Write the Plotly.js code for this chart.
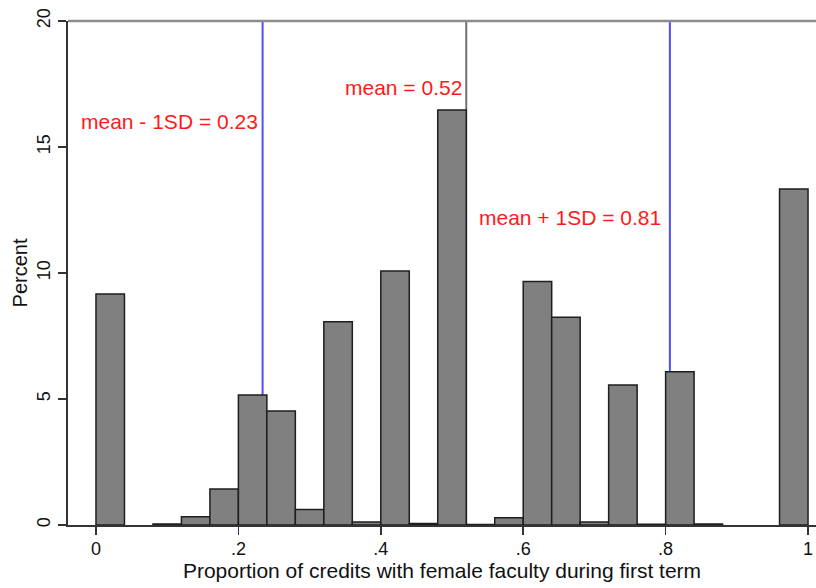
<!DOCTYPE html>
<html>
<head>
<meta charset="utf-8">
<script src="https://cdn.plot.ly/plotly-3.0.1.min.js"></script>
<style>html,body{margin:0;padding:0;background:#fff;}#chart{width:816px;height:588px;}</style>
</head>
<body>
<div id="chart"></div>
<script>
// Histogram bins (centers of 0.04-wide bins) and percent heights (null = empty bin)
var binCenters = [0.02, 0.06, 0.10, 0.14, 0.18, 0.22, 0.26, 0.30, 0.34, 0.38, 0.42, 0.46, 0.50,
                  0.54, 0.58, 0.62, 0.66, 0.70, 0.74, 0.78, 0.82, 0.86, 0.90, 0.94, 0.98];
var percents   = [9.17, null, 0.04, 0.33, 1.43, 5.16, 4.52, 0.62, 8.07, 0.12, 10.08, 0.06, 16.47,
                  0.02, 0.29, 9.66, 8.24, 0.12, 5.56, 0.03, 6.08, 0.04, null, null, 13.33];
var binWidth = 0.04;

// Reference lines: mean - 1SD, mean, mean + 1SD
var lineValues = [0.234, 0.52, 0.806];
var lineLabels = ["mean - 1SD = 0.23", "mean = 0.52", "mean + 1SD = 0.81"];
var labelHeights = [16.0, 17.35, 12.2];
var lineColors = ["#4f4fff", "#707070", "#4f4fff"];

var xTickVals = [0, 0.2, 0.4, 0.6, 0.8, 1];
var xTickText = ["0", ".2", ".4", ".6", ".8", "1"];
var yTickVals = [0, 5, 10, 15, 20];

var fontFam = '"Liberation Sans", Arial, Helvetica, sans-serif';

var trace = {
  type: 'bar',
  x: binCenters,
  y: percents,
  width: binCenters.map(function(){ return binWidth; }),
  marker: { color: '#808080', line: { color: '#1e1e1e', width: 1.5 } },
  hoverinfo: 'x+y'
};

var shapes = lineValues.map(function(v, i) {
  return { type: 'line', layer: 'below', xref: 'x', yref: 'y', x0: v, x1: v, y0: 0, y1: 20,
           line: { color: lineColors[i], width: 2 } };
});
shapes.push({ type: 'line', xref: 'paper', yref: 'paper', x0: 0, x1: 1, y0: 1, y1: 1,
              line: { color: '#8c8c8c', width: 2.5 } });

var shifts = [-3, -2, -7];
var annotations = lineValues.map(function(v, i) {
  return { x: v, y: labelHeights[i], xref: 'x', yref: 'y', text: lineLabels[i], showarrow: false,
           xanchor: 'right', yanchor: 'middle', xshift: shifts[i],
           font: { family: fontFam, size: 21, color: '#ff1a1a' } };
});

var layout = {
  width: 816, height: 588,
  margin: { l: 68, r: 0, t: 21, b: 63 },
  paper_bgcolor: '#ffffff', plot_bgcolor: '#ffffff',
  showlegend: false,
  bargap: 0,
  font: { family: fontFam, color: '#111111' },
  xaxis: {
    range: [-0.0393, 1.0112],
    tickvals: xTickVals, ticktext: xTickText,
    ticks: 'outside', ticklen: 8, tickwidth: 1.5, tickcolor: '#333333',
    showline: true, linecolor: '#333333', linewidth: 1.5,
    showgrid: false, zeroline: false,
    tickfont: { family: fontFam, size: 18, color: '#111111' },
    ticklabelstandoff: -1,
    title: { text: 'Proportion of credits with female faculty during first term',
             font: { family: fontFam, size: 21, color: '#111111' }, standoff: 3 }
  },
  yaxis: {
    range: [0, 20],
    tickvals: yTickVals,
    ticks: 'outside', ticklen: 8, tickwidth: 1.5, tickcolor: '#333333',
    tickangle: -90,
    showline: true, linecolor: '#333333', linewidth: 2,
    showgrid: false, zeroline: false,
    tickfont: { family: fontFam, size: 18, color: '#111111' },
    ticklabelstandoff: 1,
    title: { text: 'Percent', font: { family: fontFam, size: 20, color: '#111111' }, standoff: 1 }
  },
  shapes: shapes,
  annotations: annotations
};

Plotly.newPlot('chart', [trace], layout, { displayModeBar: false, staticPlot: true });
</script>
</body>
</html>
